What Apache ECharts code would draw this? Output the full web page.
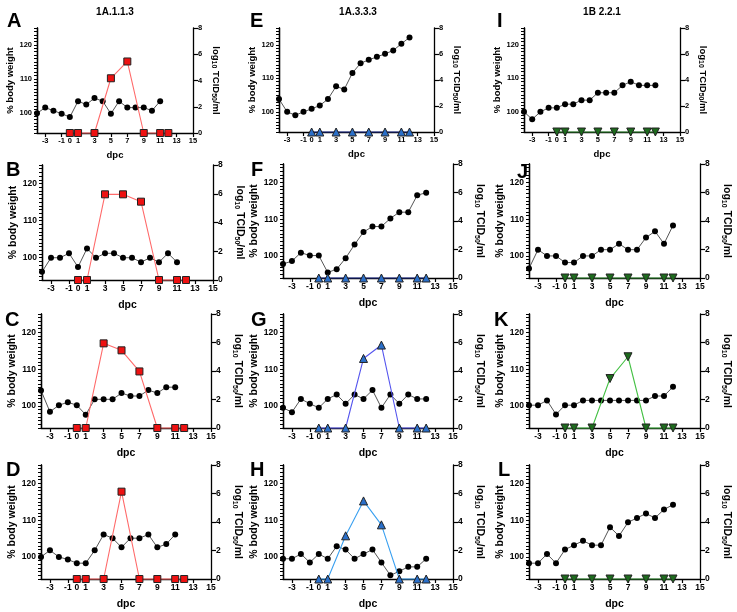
<!DOCTYPE html>
<html><head><meta charset="utf-8">
<script src="https://cdn.jsdelivr.net/npm/echarts@6/dist/echarts.min.js"></script>
<style>html,body{margin:0;padding:0;background:#fff}#c{width:737px;height:612px}</style>
</head><body><div id="c"></div>
<script>
// ---------- data ----------
const bwDays = [-4,-3,-2,-1,0,1,2,3,4,5,6,7,8,9,10,11,12];
const titerDays = [0,1,3,5,7,9,11,12];
const xTickLabels = [-3,-1,0,1,3,5,7,9,11,13,15];
const leftTickLabels = [100,110,120];
const rightTickLabels = [0,2,4,6,8];
const columnTitles = ['1A.1.1.3','1A.3.3.3','1B 2.2.1'];

const bwA = [99.8,101.5,100.6,99.7,98.7,103.4,102.4,104.3,103.4,99.7,103.4,101.5,101.5,101.5,100.6,103.4];
const bwB = [96.2,100,100,101.2,97.5,102.5,100,101.2,101.2,100,100,98.8,100,98.8,101.2,98.8];
const bwC = [104.2,98.4,100.2,101.0,100.2,97.6,101.8,101.8,101.8,103.5,102.7,102.7,104.3,103.5,105.1,105.1];
const bwD = [100,101.8,100,99.3,98.3,98.3,101.8,106.1,105.1,102.6,105.1,105.1,106.1,102.6,103.5,106.1];
const bwE = [103.8,100,99,100,100.9,101.9,103.8,107.6,106.7,111.6,114.5,115.5,116.4,117.3,118.3,120.3,122.2];
const bwF = [97.8,98.6,100.9,100.1,100.1,95.5,96.4,99.4,103.1,106.5,108.0,108.0,110.2,111.9,111.9,116.5,117.2];
const bwG = [99.5,98.3,101.9,100.6,99.5,101.9,103.1,100.6,103.1,101.9,104.3,99.5,103.1,100.6,103.1,101.9,101.9];
const bwH = [99.5,99.5,100.8,98.5,100.8,99.5,102.9,102.0,99.5,100.8,102.0,98.5,95.0,96.1,97.3,97.3,99.5];
const bwI = [100,97.8,100,101.2,101.2,102.3,102.3,103.5,103.5,105.7,105.7,105.7,107.9,109,107.9,107.9,107.9];
const bwJ = [96.6,101.7,100,100,98.2,98.2,100,100,101.7,101.7,103.3,101.7,101.7,105,106.7,103.3,108.3];
const bwK = [100.2,100.2,101.5,97.7,100.2,100.2,101.5,101.5,101.5,101.5,101.5,101.5,101.5,101.5,102.7,102.7,105.2];
const bwL = [98.3,98.3,100.8,98.3,102.0,103.2,104.4,103.2,103.2,108.1,105.7,109.4,110.6,111.8,110.6,112.9,114.2];

const tA = [0,0,0,4.17,5.45,0,0,0];
const tB = [0,0,5.96,5.96,5.45,0,0,0];
const tC = [0,0,5.94,5.45,3.97,0,0,0];
const tD = [0,0,0,6.13,0,0,0,0];
const tE = [0,0,0,0,0,0,0,0];
const tF = [0,0,0,0,0,0,0,0];
const tG = [0,0,0,4.88,5.82,0,0,0];
const tH = [0,0,3.03,5.48,3.8,0,0,0];
const tI = [0,0,0,0,0,0,0,0];
const tJ = [0,0,0,0,0,0,0,0];
const tK = [0,0,0,3.47,5.0,0,0,0];
const tL = [0,0,0,0,0,0,0,0];

// ---------- panel definitions ----------
const panels = [
  {id:'A', bw:bwA, t:tA, kind:'red'},
  {id:'E', bw:bwE, t:tE, kind:'navy'},
  {id:'I', bw:bwI, t:tI, kind:'green'},
  {id:'B', bw:bwB, t:tB, kind:'red'},
  {id:'F', bw:bwF, t:tF, kind:'navy'},
  {id:'J', bw:bwJ, t:tJ, kind:'green'},
  {id:'C', bw:bwC, t:tC, kind:'red'},
  {id:'G', bw:bwG, t:tG, kind:'violet'},
  {id:'K', bw:bwK, t:tK, kind:'lgreen'},
  {id:'D', bw:bwD, t:tD, kind:'red'},
  {id:'H', bw:bwH, t:tH, kind:'sky'},
  {id:'L', bw:bwL, t:tL, kind:'green'}
];
const layout = {
  A:{g:[37,28,193,133], L:[7,11], row:0},
  E:{g:[279,28,434,132], L:[250,11], row:0},
  I:{g:[524,28,680,132], L:[497,11], row:0},
  B:{g:[42,165,213,280], L:[6,160], row:1},
  F:{g:[283,164,453,278], L:[251,160], row:1},
  J:{g:[529,164,700,278], L:[517,162], row:1},
  C:{g:[41,314,211,428], L:[5,310], row:2},
  G:{g:[283,314,453,428], L:[251,310], row:2},
  K:{g:[529,314,700,428], L:[494,310], row:2},
  D:{g:[41,465,211,579], L:[6,460], row:3},
  H:{g:[283,465,453,579], L:[250,460], row:3},
  L:{g:[529,465,700,579], L:[498,460], row:3}
};
const styles = {
  red:   {sym:'rect', rot:0, fill:'#ee1111', line:'#ff6a6a'},
  navy:  {sym:'triangle', rot:0, fill:'#2a6fc9', line:'#1c2a8c'},
  violet:{sym:'triangle', rot:0, fill:'#2a6fc9', line:'#5555ee'},
  sky:   {sym:'triangle', rot:0, fill:'#2a6fc9', line:'#3aa0f0'},
  green: {sym:'triangle', rot:180, fill:'#1d6b1d', line:'#2e8b2e'},
  lgreen:{sym:'triangle', rot:180, fill:'#1d6b1d', line:'#44c044'}
};

const FONT = 'Liberation Sans, Arial, sans-serif';
const grids=[], xAxes=[], yAxes=[], series=[], graphics=[];

panels.forEach((p,i)=>{
  const lay = layout[p.id];
  const [l,t,r,b] = lay.g;
  const small = lay.row===0;
  const tickFs = small ? 7.5 : 8.5;
  const nameFs = small ? 9.5 : 10.5;
  grids.push({left:l, top:t, width:r-l, height:b-t});
  xAxes.push({
    type:'value', gridIndex:i, min:-4, max:15,
    axisLine:{show:true, onZero:false, lineStyle:{color:'#000', width:1.3}},
    axisTick:{show:true, length:4, customValues:xTickLabels, lineStyle:{color:'#000', width:1.2}},
    axisLabel:{customValues:xTickLabels, color:'#000', fontFamily:FONT, fontWeight:'bold', fontSize:tickFs, margin:4},
    splitLine:{show:false},
    name:'dpc', nameLocation:'middle', nameGap: small ? 17 : 20,
    nameTextStyle:{color:'#000', fontFamily:FONT, fontWeight:'bold', fontSize:nameFs}
  });
  const yi = yAxes.length;
  yAxes.push({
    type:'value', gridIndex:i, position:'left', min:94, max:125, interval:1, z:10,
    axisLine:{show:true, onZero:false, lineStyle:{color:'#000', width:1.3}},
    axisTick:{show:true, length:3, lineStyle:{color:'#000', width:1}},
    axisLabel:{color:'#000', fontFamily:FONT, fontWeight:'bold', fontSize:tickFs, margin:5,
      formatter:(v)=> leftTickLabels.includes(v) ? String(v) : ''},
    splitLine:{show:false},
    name:'% body weight', nameLocation:'middle', nameRotate:90, nameGap: small ? 20 : 23,
    nameTextStyle:{color:'#000', fontFamily:FONT, fontWeight:'bold', fontSize:nameFs}
  });
  yAxes.push({
    type:'value', gridIndex:i, position:'right', min:0, max:8, interval:2,
    axisLine:{show:true, onZero:false, lineStyle:{color:'#000', width:1.3}},
    axisTick:{show:true, length:5, lineStyle:{color:'#000', width:1.2}},
    axisLabel:{color:'#000', fontFamily:FONT, fontWeight:'bold', fontSize:tickFs, margin:5,
      formatter:(v)=> rightTickLabels.includes(v) ? String(v) : ''},
    splitLine:{show:false}
  });
  // extra right-positioned axis shifted onto the left edge: draws the left axis line
  yAxes.push({
    type:'value', gridIndex:i, position:'right', offset:-(r-l), min:0, max:8, interval:2, z:10,
    axisLine:{show:true, onZero:false, lineStyle:{color:'#000', width:1.3}},
    axisTick:{show:false}, axisLabel:{show:false}, splitLine:{show:false}
  });
  const sub = Math.round(nameFs*0.7);
  graphics.push({
    type:'text', x: r + (small ? 23 : 27), y:(t+b)/2, rotation:-Math.PI/2,
    style:{
      text:'{n|log}{s|10}{n| TCID}{s|50}{n|/ml}', align:'center', verticalAlign:'middle',
      rich:{
        n:{font:'bold '+nameFs+'px '+FONT, fill:'#000', lineHeight:nameFs+2, verticalAlign:'middle'},
        s:{font:'bold '+sub+'px '+FONT, fill:'#000', lineHeight:nameFs+2, verticalAlign:'bottom'}
      }
    }
  });
  const st = styles[p.kind];
  series.push({
    type:'line', xAxisIndex:i, yAxisIndex:yi, clip:false, z:3,
    data: p.bw.map((v,k)=>[bwDays[k], v]),
    symbol:'circle', symbolSize:6, showSymbol:true,
    itemStyle:{color:'#000'}, lineStyle:{color:'#555', width:1},
    emphasis:{disabled:true}, animation:false
  });
  series.push({
    type:'line', xAxisIndex:i, yAxisIndex:yi+1, clip:false, z:4,
    data: p.t.map((v,k)=>[titerDays[k], v]),
    symbol:st.sym, symbolRotate:st.rot, symbolSize:st.sym==='rect'?7:8,
    itemStyle:{color:st.fill, borderColor:'#222', borderWidth:1},
    lineStyle:{color:st.line, width:1.1},
    emphasis:{disabled:true}, animation:false
  });
  graphics.push({type:'text', left:lay.L[0], top:lay.L[1],
    style:{text:p.id, font:'bold 20px '+FONT, fill:'#000'}});
});

const titleX = [115, 358, 602];
columnTitles.forEach((t,k)=>{
  graphics.push({type:'text', x:titleX[k], y:7,
    style:{text:t, font:'bold 10px '+FONT, fill:'#000', align:'center', verticalAlign:'top'}});
});

const chart = echarts.init(document.getElementById('c'), null, {renderer:'canvas'});
chart.setOption({
  animation:false, backgroundColor:'#fff',
  grid:grids, xAxis:xAxes, yAxis:yAxes, series:series, graphic:graphics
});
</script></body></html>
